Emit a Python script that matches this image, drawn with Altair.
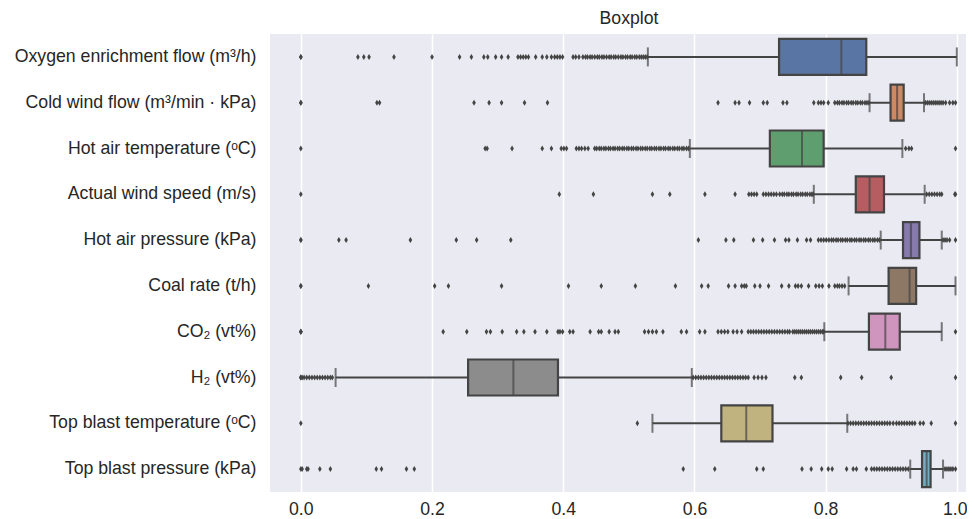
import altair as alt
import pandas as pd

categories = [
    "Oxygen enrichment flow (m³/h)",
    "Cold wind flow (m³/min · kPa)",
    "Hot air temperature (ᵒC)",
    "Actual wind speed (m/s)",
    "Hot air pressure (kPa)",
    "Coal rate (t/h)",
    "CO₂ (vt%)",
    "H₂ (vt%)",
    "Top blast temperature (ᵒC)",
    "Top blast pressure (kPa)",
]
colors = ["#5975a4", "#cc8963", "#5f9e6e", "#b55d60", "#857aab",
          "#8d7866", "#d095bf", "#8c8c8c", "#c1b37f", "#71aec0"]

q1 = [0.729, 0.899, 0.715, 0.846, 0.918, 0.896, 0.866, 0.255, 0.641, 0.947]
median = [0.824, 0.909, 0.764, 0.867, 0.930, 0.928, 0.891, 0.324, 0.679, 0.954]
q3 = [0.862, 0.919, 0.797, 0.889, 0.943, 0.938, 0.913, 0.392, 0.719, 0.960]
whisker_low = [0.529, 0.867, 0.593, 0.782, 0.884, 0.835, 0.798, 0.053, 0.536, 0.929]
whisker_high = [1.000, 0.950, 0.917, 0.951, 0.977, 0.998, 0.977, 0.596, 0.833, 0.979]

out_oxygen = [0.0, 0.0, 0.087, 0.096, 0.104, 0.142, 0.200, 0.242, 0.260, 0.279, 0.285, 0.297,
              0.306, 0.316, 0.331, 0.335, 0.339, 0.343, 0.347, 0.358, 0.368, 0.375, 0.382,
              0.387, 0.391, 0.395, 0.399, 0.415, 0.419, 0.424, 0.430, 0.434, 0.437, 0.441,
              0.444, 0.448, 0.452, 0.455, 0.459, 0.462, 0.466, 0.470, 0.473, 0.477, 0.480,
              0.484, 0.488, 0.491, 0.495, 0.498, 0.502, 0.505, 0.509, 0.512, 0.516, 0.519,
              0.522, 0.525, 0.528]
out_cold = [0.0, 0.0, 0.116, 0.120, 0.264, 0.287, 0.306, 0.341, 0.376, 0.636, 0.662, 0.668,
            0.684, 0.705, 0.711, 0.735, 0.741, 0.782, 0.789, 0.793, 0.797, 0.804, 0.814,
            0.818, 0.821, 0.825, 0.828, 0.832, 0.835, 0.839, 0.842, 0.846, 0.849, 0.853,
            0.856, 0.860, 0.863, 0.866, 0.952, 0.955, 0.958, 0.961, 0.964, 0.967, 0.970,
            0.973, 0.976, 0.979, 0.983, 0.989, 0.994, 0.998]
out_hot_temp = [0.0, 0.281, 0.284, 0.322, 0.368, 0.382, 0.397, 0.401, 0.405, 0.420, 0.424,
                0.428, 0.433, 0.438, 0.448, 0.451, 0.455, 0.458, 0.462, 0.465, 0.469, 0.472,
                0.476, 0.479, 0.483, 0.486, 0.490, 0.493, 0.497, 0.500, 0.504, 0.507, 0.511,
                0.514, 0.518, 0.521, 0.525, 0.528, 0.532, 0.535, 0.539, 0.542, 0.546, 0.549,
                0.553, 0.556, 0.560, 0.563, 0.567, 0.570, 0.574, 0.577, 0.581, 0.584, 0.588,
                0.591, 0.922, 0.927, 0.931, 0.998]
out_wind = [0.0, 0.394, 0.446, 0.536, 0.5625, 0.616, 0.662, 0.683, 0.687, 0.691, 0.695, 0.705,
            0.709, 0.713, 0.717, 0.721, 0.725, 0.730, 0.734, 0.737, 0.741, 0.744, 0.748,
            0.751, 0.755, 0.758, 0.762, 0.765, 0.769, 0.772, 0.776, 0.779, 0.781, 0.954,
            0.958, 0.962, 0.966, 0.970, 0.974, 0.977, 0.997, 0.998]
out_hot_press = [0.0, 0.0, 0.058, 0.069, 0.167, 0.237, 0.268, 0.320, 0.606, 0.648, 0.660,
                 0.690, 0.704, 0.722, 0.739, 0.744, 0.757, 0.771, 0.777, 0.789, 0.793, 0.797,
                 0.801, 0.805, 0.809, 0.812, 0.816, 0.819, 0.823, 0.826, 0.830, 0.833, 0.837,
                 0.840, 0.844, 0.847, 0.851, 0.854, 0.858, 0.861, 0.865, 0.868, 0.872, 0.875,
                 0.879, 0.882, 0.979, 0.982, 0.985, 0.989, 0.998]
out_coal = [0.0, 0.0, 0.103, 0.204, 0.225, 0.306, 0.408, 0.458, 0.510, 0.571, 0.611, 0.621,
            0.652, 0.662, 0.672, 0.676, 0.679, 0.692, 0.700, 0.713, 0.733, 0.744, 0.754,
            0.758, 0.763, 0.774, 0.785, 0.790, 0.795, 0.805, 0.814, 0.818, 0.821, 0.825,
            0.829]
out_co2 = [0.0, 0.0, 0.0, 0.217, 0.253, 0.283, 0.289, 0.307, 0.329, 0.340, 0.357, 0.375,
           0.392, 0.395, 0.399, 0.410, 0.415, 0.441, 0.454, 0.458, 0.470, 0.479, 0.484,
           0.524, 0.530, 0.536, 0.542, 0.552, 0.580, 0.588, 0.608, 0.616, 0.636, 0.641,
           0.646, 0.651, 0.659, 0.665, 0.672, 0.682, 0.686, 0.690, 0.694, 0.698, 0.702,
           0.706, 0.710, 0.714, 0.718, 0.722, 0.726, 0.730, 0.734, 0.738, 0.742, 0.745,
           0.750, 0.753, 0.756, 0.759, 0.762, 0.765, 0.768, 0.771, 0.774, 0.777, 0.780,
           0.783, 0.786, 0.789, 0.792, 0.795, 0.797, 0.998]
out_h2 = [0.0, 0.0, 0.002, 0.005, 0.009, 0.013, 0.017, 0.021, 0.025, 0.029, 0.033, 0.037,
          0.041, 0.045, 0.048, 0.598, 0.602, 0.606, 0.610, 0.614, 0.618, 0.622, 0.626,
          0.630, 0.634, 0.638, 0.642, 0.646, 0.650, 0.654, 0.658, 0.662, 0.666, 0.670,
          0.674, 0.678, 0.682, 0.691, 0.697, 0.703, 0.709, 0.753, 0.763, 0.823, 0.855,
          0.900, 0.998]
out_top_temp = [0.0, 0.513, 0.834, 0.838, 0.842, 0.846, 0.850, 0.854, 0.858, 0.862, 0.866,
                0.870, 0.874, 0.878, 0.882, 0.886, 0.890, 0.894, 0.898, 0.903, 0.908, 0.912,
                0.916, 0.920, 0.924, 0.928, 0.932, 0.936, 0.944, 0.949, 0.961, 0.998]
out_top_press = [0.0, 0.002, 0.009, 0.011, 0.029, 0.045, 0.115, 0.123, 0.161, 0.173, 0.583,
                 0.631, 0.695, 0.705, 0.764, 0.778, 0.794, 0.804, 0.810, 0.832, 0.842, 0.847,
                 0.862, 0.870, 0.874, 0.878, 0.882, 0.886, 0.890, 0.894, 0.898, 0.902, 0.906,
                 0.910, 0.914, 0.918, 0.922, 0.926, 0.982, 0.985, 0.988, 0.991, 0.994, 0.998]

outliers = [out_oxygen, out_cold, out_hot_temp, out_wind, out_hot_press,
            out_coal, out_co2, out_h2, out_top_temp, out_top_press]

box_df = pd.DataFrame({
    "cat": categories, "q1": q1, "median": median, "q3": q3,
    "lo": whisker_low, "hi": whisker_high,
})
out_df = pd.DataFrame(
    [{"cat": c, "value": v} for c, vals in zip(categories, outliers) for v in vals]
)

LINE = "#444444"
FONT = "Liberation Sans"
FS = 17.7

x_scale = alt.Scale(domain=[-0.047, 1.014], nice=False, zero=False)
y_enc = alt.Y("cat:N", sort=categories, title=None,
              scale=alt.Scale(domain=categories, paddingInner=0, paddingOuter=0))
x_axis = alt.Axis(values=[0, 0.2, 0.4, 0.6, 0.8, 1.0], format=".1f", title=None,
                  labelOffset={"condition": {"test": "datum.value >= 1", "value": -2},
                               "value": 0})

base = alt.Chart(box_df)

whisker = base.mark_rule(color=LINE, strokeWidth=2).encode(
    x=alt.X("lo:Q", scale=x_scale, axis=x_axis), x2="hi:Q", y=y_enc)

cap_lo = base.mark_tick(color=LINE, thickness=2, size=19, orient="vertical").encode(
    x=alt.X("lo:Q", scale=x_scale), y=y_enc)
cap_hi = base.mark_tick(color=LINE, thickness=2, size=19, orient="vertical").encode(
    x=alt.X("hi:Q", scale=x_scale), y=y_enc)

box = base.mark_bar(height=36, stroke=LINE, strokeWidth=2.2).encode(
    x=alt.X("q1:Q", scale=x_scale), x2="q3:Q", y=y_enc,
    color=alt.Color("cat:N", scale=alt.Scale(domain=categories, range=colors), legend=None))

med = base.mark_tick(color=LINE, thickness=2, size=36, orient="vertical").encode(
    x=alt.X("median:Q", scale=x_scale), y=y_enc)

points = alt.Chart(out_df).mark_point(
    shape="M0,-1L0.6,0L0,1L-0.6,0Z", filled=True, size=36, color=LINE, opacity=1,
    strokeWidth=0).encode(
    x=alt.X("value:Q", scale=x_scale), y=y_enc)

chart = alt.layer(whisker, cap_lo, cap_hi, box, med, points).properties(
    width=696, height=458,
    title=alt.TitleParams("Boxplot", fontSize=FS, font=FONT, fontWeight="normal",
                          color="#262626", dx=11, offset=6),
    autosize=alt.AutoSizeParams(type="none"),
    padding={"left": 262, "top": 26, "right": 1, "bottom": 27},
).configure(
    background="white"
).configure_view(
    fill="#EAEAF2", stroke=None
).configure_axisX(
    grid=True, gridColor="white", gridWidth=1.5, gridOpacity=1, domain=False, ticks=False,
    labelFont=FONT, labelFontSize=FS, labelColor="#262626", labelPadding=8,
).configure_axisY(
    grid=False, domain=False, ticks=False, labelFont=FONT, labelFontSize=FS,
    labelColor="#262626", labelPadding=14, labelLimit=500,
)

chart.save("out.html", embed_options={"renderer": "svg", "actions": False})
